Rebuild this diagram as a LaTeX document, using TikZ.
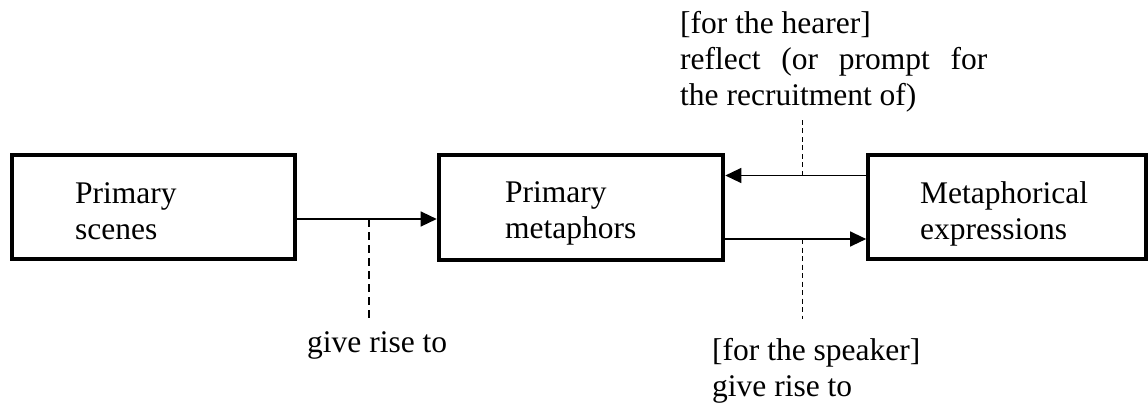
\documentclass[tikz,border=0pt]{standalone}
\usepackage{fontspec}
\setmainfont{Liberation Serif}
\usetikzlibrary{arrows.meta}

\begin{document}
\begin{tikzpicture}[x=1pt,y=-1pt,
  box/.style={draw,line width=4pt,inner sep=0pt},
  link/.style={line width=1.3pt,-{Triangle[length=16pt,width=15pt]}},
  guide/.style={line width=2pt,dash pattern=on 8pt off 5pt},
  thinguide/.style={line width=1pt,dash pattern=on 5pt off 3.5pt},
  txt/.style={anchor=base west,inner sep=0pt,font=\fontsize{31.5}{36}\selectfont}]
  \useasboundingbox (0,0) rectangle (1148,405);

  % the three boxes
  \node[box,minimum width=283.6pt,minimum height=104.3pt] (scenes) at (153.5,207) {};
  \node[box,minimum width=284.6pt,minimum height=105pt] (prim) at (581,207.5) {};
  \node[box,minimum width=277.7pt,minimum height=104pt] (expr) at (1007,207) {};

  % box labels
  \node[txt] (scenesL) at (75,203) {\parbox[t]{200pt}{Primary\\scenes}};
  \node[txt] (primL) at (505,202) {\parbox[t]{200pt}{Primary\\metaphors}};
  \node[txt] (exprL) at (920,203) {\parbox[t]{220pt}{Metaphorical\\expressions}};

  % connectors between the boxes
  \draw[link] (scenes.east |- 0,219) -- (prim.west |- 0,219);
  \draw[link] (expr.west |- 0,175.5) -- (prim.east |- 0,175.5);
  \draw[link] (prim.east |- 0,239) -- (expr.west |- 0,239);

  % dashed leaders to the annotations
  \coordinate (g1) at (369,219);
  \coordinate (g1e) at (369,320);
  \draw[guide] (g1) -- (g1e);
  \coordinate (h1) at (802,175.5);
  \coordinate (h1e) at (802,117);
  \draw[thinguide] (h1) -- (h1e);
  \coordinate (s1) at (802,239);
  \coordinate (s1e) at (802,319);
  \draw[thinguide] (s1) -- (s1e);

  % annotations
  \node[txt] (hearer) at (680,33) {\parbox[t]{320pt}{[for the hearer]\\
    \makebox[307pt][s]{reflect (or prompt for}\\
    the recruitment of)}};
  \node[txt] (rise) at (307,352) {give rise to};
  \node[txt] (speaker) at (712,360) {\parbox[t]{300pt}{[for the speaker]\\give rise to}};
\end{tikzpicture}
\end{document}
